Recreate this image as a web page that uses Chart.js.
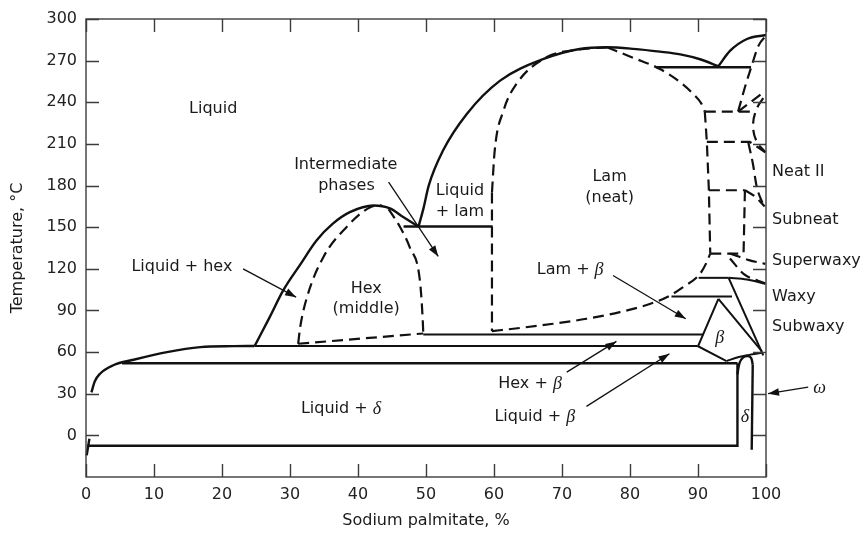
<!DOCTYPE html>
<html>
<head>
<meta charset="utf-8">
<script src="https://cdn.jsdelivr.net/npm/chart.js@4.4.1/dist/chart.umd.min.js"></script>
<style>
	html, body { margin: 0; padding: 0; background: #fff; }
</style>
</head>
<body>
<canvas id="diagramaFases" width="863" height="533"></canvas>
<script>
// tick labels
var ticksX = [0, 10, 20, 30, 40, 50, 60, 70, 80, 90, 100];
var ticksY = [0, 30, 60, 90, 120, 150, 180, 210, 240, 270, 300];

// phase boundaries, [% sodium palmitate, temperature °C]
// solid curves
var liquidusLeft = [[0.8, 31], [1.3, 39], [2.1, 44.6], [4, 50.5], [7, 54.5], [11.9, 60], [16.8, 63.6], [21.7, 64.3], [24.8, 64.4]];
var hexLiquidus = [[24.8, 64.4], [27, 85], [29, 104.4], [31.5, 123], [33.9, 140.4], [36.3, 152.5], [38.8, 160.8], [42.3, 165.6], [44.7, 163.5], [46.7, 157.2], [48.9, 150.5]];
var lamLiquidus = [[48.9, 150.5], [49.6, 163], [50.4, 180], [52.5, 205.2], [56, 231.6], [60.9, 255.6], [67.3, 271.2], [72.6, 278.4], [76.6, 279.6], [80.5, 278.5], [84.4, 276.5], [87.4, 274.5], [90.3, 271], [93, 266]];
var topRight = [[93, 266], [94.7, 277], [97.2, 285.6], [100, 288.5]];
var waxyCurve = [[94.5, 113.5], [97.2, 112.3], [99.9, 109.2]];
var betaBottom = [[94.2, 53.5], [96, 56.5], [97.5, 58], [99.4, 59.5]];
var deltaArc = [[95.8, 44], [96.1, 52], [96.6, 56], [97.3, 57.2], [97.8, 55.8], [98.05, 51]];

// solid straight segments
var line265 = [[83.9, 265.2], [97.8, 265.2]];
var line150 = [[46.7, 150.5], [59.8, 150.5]];
var line113 = [[90.1, 113.5], [94.5, 113.5]];
var line100 = [[86.1, 100.1], [95, 100.1]];
var line73 = [[49.6, 72.7], [90.8, 72.7]];
var line64 = [[24.8, 64.3], [89.9, 64.3]];
var line52 = [[5.3, 52], [95.8, 52]];
var deltaBox = [[0.2, -7.5], [95.8, -7.5], [95.8, 52]];
var leftTick = [[0.5, -2.4], [0.1, -14.4]];
var betaTriangle = [[93, 98.4], [90, 64.2], [94.2, 53.5]];
var waxyDiag = [[94.5, 113.5], [99.6, 57.6]];
var betaDiag = [[93, 98.4], [99.4, 60.5]];
var deltaRight = [[98.05, 51], [97.9, -10.3]];

// dashed curves
var hexLeftDashed = [[31.2, 66], [31.5, 78], [32.5, 99.6], [34.9, 128.4], [38.3, 150], [41.8, 164.4], [43.5, 165.8]];
var hexRightDashed = [[44.5, 163], [46.2, 150], [47.6, 135.6], [49.1, 111.6], [49.5, 85], [49.6, 73.4]];
var lamLeftDashed = [[59.7, 175], [60.1, 205], [61.4, 234], [63.3, 253.2], [67.7, 272.4], [72.6, 278], [76.6, 279.6]];
var lamBottomDashed = [[59.7, 75.1], [64, 77.5], [68.7, 80.4], [73.6, 84], [78.5, 88.8], [83, 94.8], [85.9, 100.8], [87.8, 106.8], [90.3, 116.4], [91.3, 125], [91.8, 131]];
var lamRightDashed = [[76.6, 279.6], [80.5, 272], [84.4, 264], [87.5, 254], [89.3, 246], [90.5, 239], [91, 233.3]];
var subneatCurve = [[96.9, 176.6], [98.4, 172], [99.8, 165]];
var neatDiag = [[97.4, 211], [98.1, 195], [98.6, 180], [99.7, 165]];
var neatIIArc = [[99.6, 243], [98.7, 236], [98.1, 224], [98.6, 212], [99.9, 204]];
var neatIITop = [[95.9, 233.3], [96.9, 250.8], [97.9, 266.4], [98.9, 280.8], [100, 288]];
var superwaxyUpper = [[94.7, 131], [97.5, 126.3], [99.9, 123.6]];
var superwaxyLower = [[94.7, 127.5], [96.7, 116.4], [99.9, 109.5]];

// dashed straight segments
var hexBottomDashed = [[31.2, 66], [49.6, 73.4]];
var lamLeftVertical = [[59.7, 175], [59.7, 75.1]];
var lamRightWall = [[91, 233.3], [91.3, 211.5], [91.6, 176.6], [91.8, 131]];
var neatBox233 = [[91, 233.3], [98, 233.3]];
var neatBox211 = [[91.3, 211.5], [97.6, 211.5], [99.9, 204]];
var subneatTop = [[91.6, 176.6], [96.9, 176.6]];
var subneatWall = [[96.9, 176.6], [96.7, 131]];
var subneatBottom = [[91.8, 131], [96.7, 131]];
var neatIIDiag = [[95.9, 233.3], [99.6, 247]];

// label arrows (start, tip)
var arrowLiquidHex = [[23.1, 120], [30.9, 99.6]];
var arrowIntermediate = [[44.5, 182.4], [51.8, 128.9]];
var arrowLamBeta = [[77.5, 115.2], [88.2, 84]];
var arrowHexBeta = [[70.7, 45.6], [78, 67.7]];
var arrowLiquidBeta = [[73.6, 20.9], [85.8, 58.8]];
var arrowOmega = [[106.2, 34.8], [100.3, 30]];

var FONTE = '16px "DejaVu Sans"';
var GREGO = 'italic 18px "Liberation Serif"';

// curva: 'm' monotone along x, 't' tension spline, nothing = straight
function linha(pontos, estilo, curva) {
	var e = {
		solida: { w: 2.4, dash: [] },
		fina: { w: 2, dash: [] },
		tracejada: { w: 2.2, dash: [11, 6] },
		seta: { w: 1.3, dash: [] }
	}[estilo];
	return {
		data: pontos.map(function(p) { return { x: p[0], y: p[1] }; }),
		showLine: true,
		borderColor: '#111',
		borderWidth: e.w,
		borderDash: e.dash,
		borderCapStyle: 'butt',
		cubicInterpolationMode: curva === 'm' ? 'monotone' : 'default',
		tension: curva === 't' ? 0.4 : 0,
		pointRadius: 0,
		fill: false,
		clip: false,
		seta: estilo === 'seta'
	};
}

var datasets = [
	linha(liquidusLeft, 'solida', 'm'),
	linha(hexLiquidus, 'solida', 'm'),
	linha(lamLiquidus, 'solida', 'm'),
	linha(topRight, 'solida', 'm'),
	linha(waxyCurve, 'fina', 'm'),
	linha(betaBottom, 'fina', 'm'),
	linha(deltaArc, 'solida', 't'),
	linha(line265, 'solida'),
	linha(line150, 'solida'),
	linha(line113, 'fina'),
	linha(line100, 'fina'),
	linha(line73, 'fina'),
	linha(line64, 'fina'),
	linha(line52, 'solida'),
	linha(deltaBox, 'solida'),
	linha(leftTick, 'solida'),
	linha(betaTriangle, 'fina'),
	linha(waxyDiag, 'fina'),
	linha(betaDiag, 'fina'),
	linha(deltaRight, 'solida'),
	linha(hexLeftDashed, 'tracejada', 'm'),
	linha(hexRightDashed, 'tracejada', 'm'),
	linha(lamLeftDashed, 'tracejada', 'm'),
	linha(lamBottomDashed, 'tracejada', 'm'),
	linha(lamRightDashed, 'tracejada', 'm'),
	linha(subneatCurve, 'tracejada', 'm'),
	linha(neatDiag, 'tracejada', 'm'),
	linha(neatIIArc, 'tracejada', 't'),
	linha(neatIITop, 'tracejada', 'm'),
	linha(superwaxyUpper, 'tracejada', 'm'),
	linha(superwaxyLower, 'tracejada', 'm'),
	linha(hexBottomDashed, 'tracejada'),
	linha(lamLeftVertical, 'tracejada'),
	linha(lamRightWall, 'tracejada'),
	linha(neatBox233, 'tracejada'),
	linha(neatBox211, 'tracejada'),
	linha(subneatTop, 'tracejada'),
	linha(subneatWall, 'tracejada'),
	linha(subneatBottom, 'tracejada'),
	linha(neatIIDiag, 'tracejada'),
	linha(arrowLiquidHex, 'seta'),
	linha(arrowIntermediate, 'seta'),
	linha(arrowLamBeta, 'seta'),
	linha(arrowHexBeta, 'seta'),
	linha(arrowLiquidBeta, 'seta'),
	linha(arrowOmega, 'seta')
];

// texts: parts [text, greek?], position in data units
var rotulos = [
	{ p: [['Liquid']], x: 18.7, y: 235.4 },
	{ p: [['Intermediate']], x: 38.2, y: 195.1 },
	{ p: [['phases']], x: 38.3, y: 180 },
	{ p: [['Liquid']], x: 55, y: 176.4 },
	{ p: [['+ lam']], x: 55, y: 161.3 },
	{ p: [['Lam']], x: 77, y: 186.5 },
	{ p: [['(neat)']], x: 77, y: 171.4 },
	{ p: [['Hex']], x: 41.2, y: 105.6 },
	{ p: [['(middle)']], x: 41.2, y: 91.2 },
	{ p: [['Liquid + hex']], x: 14.1, y: 121.7 },
	{ p: [['Lam + '], ['\u03b2', 1]], x: 71.2, y: 119.6 },
	{ p: [['\u03b2', 1]], x: 93.2, y: 70.6 },
	{ p: [['Hex + '], ['\u03b2', 1]], x: 65.3, y: 37.4 },
	{ p: [['Liquid + '], ['\u03b2', 1]], x: 66, y: 13.7 },
	{ p: [['Liquid + '], ['\u03b4', 1]], x: 37.5, y: 19.4 },
	{ p: [['\u03b4', 1]], x: 96.9, y: 13.7 },
	{ p: [['\u03c9', 1]], x: 107.9, y: 34.6 },
	{ p: [['Neat II']], x: 100.9, y: 190, esq: true },
	{ p: [['Subneat']], x: 100.9, y: 155.3, esq: true },
	{ p: [['Superwaxy']], x: 100.9, y: 126, esq: true },
	{ p: [['Waxy']], x: 100.9, y: 100, esq: true },
	{ p: [['Subwaxy']], x: 100.9, y: 78.5, esq: true }
];

var desenhoPlugin = {
	id: 'desenho',
	afterDatasetsDraw: function(chart) {
		var ctx = chart.ctx;
		var a = chart.chartArea;
		var sx = chart.scales.x;
		var sy = chart.scales.y;

		ctx.save();
		ctx.strokeStyle = '#3c3c3c';
		ctx.lineWidth = 1.4;
		ctx.setLineDash([]);
		ctx.strokeRect(a.left, a.top, a.right - a.left, a.bottom - a.top);

		ctx.beginPath();
		ticksX.forEach(function(v) {
			var px = Math.round(sx.getPixelForValue(v)) + 0.5;
			ctx.moveTo(px, a.bottom); ctx.lineTo(px, a.bottom - 13);
			ctx.moveTo(px, a.top); ctx.lineTo(px, a.top + 13);
		});
		ticksY.forEach(function(v) {
			var py = Math.round(sy.getPixelForValue(v)) + 0.5;
			ctx.moveTo(a.left, py); ctx.lineTo(a.left + 13, py);
			ctx.moveTo(a.right, py); ctx.lineTo(a.right - 13, py);
		});
		ctx.stroke();

		// arrow heads
		ctx.fillStyle = '#111';
		chart.data.datasets.forEach(function(ds) {
			if (!ds.seta) return;
			var p0 = ds.data[ds.data.length - 2], p1 = ds.data[ds.data.length - 1];
			var x0 = sx.getPixelForValue(p0.x), y0 = sy.getPixelForValue(p0.y);
			var x1 = sx.getPixelForValue(p1.x), y1 = sy.getPixelForValue(p1.y);
			var ang = Math.atan2(y1 - y0, x1 - x0);
			ctx.save();
			ctx.translate(x1, y1);
			ctx.rotate(ang);
			ctx.beginPath();
			ctx.moveTo(0, 0);
			ctx.lineTo(-11, -3.8);
			ctx.lineTo(-11, 3.8);
			ctx.closePath();
			ctx.fill();
			ctx.restore();
		});

		// labels
		ctx.fillStyle = '#1a1a1a';
		ctx.textBaseline = 'middle';
		ctx.textAlign = 'left';
		rotulos.forEach(function(r) {
			var larguras = r.p.map(function(parte) {
				ctx.font = parte[1] ? GREGO : FONTE;
				return ctx.measureText(parte[0]).width;
			});
			var total = larguras.reduce(function(s, w) { return s + w; }, 0);
			var px = sx.getPixelForValue(r.x);
			var py = sy.getPixelForValue(r.y);
			var x = r.esq ? px : px - total / 2;
			r.p.forEach(function(parte, i) {
				ctx.font = parte[1] ? GREGO : FONTE;
				ctx.fillText(parte[0], x, py + (parte[1] ? 1 : 0));
				x += larguras[i];
			});
		});

		// axis titles
		ctx.font = FONTE;
		ctx.textAlign = 'center';
		ctx.fillText('Sodium palmitate, %', (a.left + a.right) / 2, 521);
		ctx.save();
		ctx.translate(18, (a.top + a.bottom) / 2);
		ctx.rotate(-Math.PI / 2);
		ctx.fillText('Temperature, \u00b0C', 0, 0);
		ctx.restore();

		ctx.restore();
	}
};

new Chart(document.getElementById('diagramaFases').getContext('2d'), {
	type: 'scatter',
	data: { datasets: datasets },
	options: {
		responsive: false,
		animation: false,
		events: [],
		layout: { padding: { top: 19, right: 97, left: 0, bottom: 0 } },
		plugins: { legend: { display: false }, tooltip: { enabled: false } },
		scales: {
			x: {
				type: 'linear',
				min: 0,
				max: 100,
				grid: { display: false, drawTicks: false },
				border: { display: false },
				afterBuildTicks: function(scale) {
					scale.ticks = ticksX.map(function(v) { return { value: v }; });
				},
				afterFit: function(scale) { scale.height = 56; },
				ticks: { padding: 8, color: '#222', font: { family: 'DejaVu Sans', size: 16 }, maxRotation: 0, autoSkip: false }
			},
			y: {
				type: 'linear',
				min: -30,
				max: 300,
				grid: { display: false, drawTicks: false },
				border: { display: false },
				afterBuildTicks: function(scale) {
					scale.ticks = ticksY.map(function(v) { return { value: v }; });
				},
				afterFit: function(scale) { scale.width = 86; },
				ticks: { padding: 9, color: '#222', font: { family: 'DejaVu Sans', size: 16 }, autoSkip: false }
			}
		}
	},
	plugins: [desenhoPlugin]
});
</script>
</body>
</html>
